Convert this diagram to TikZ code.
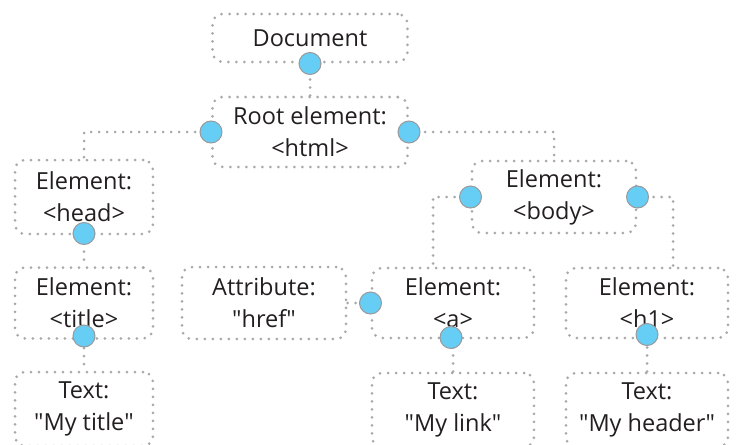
\documentclass[tikz,border=0pt]{standalone}
\usepackage{fontspec}
\setmainfont{Open Sans}
\usepackage{tikz}
\definecolor{rim}{HTML}{A9A9AB}
\definecolor{knob}{HTML}{66CDF4}
\definecolor{knobrim}{HTML}{9A9A9C}
\definecolor{ink}{HTML}{231F20}
\newcommand{\qq}{\textquotedbl}

\begin{document}
\begin{tikzpicture}[x=1pt, y=-1pt,
  font=\fontsize{23.5}{32}\selectfont,
  box/.style={draw=rim, line width=3pt, line cap=round,
              dash pattern=on 0pt off 8pt, rounded corners=10pt,
              align=center, inner sep=0pt, text=ink},
  link/.style={draw=rim, line width=3pt, line cap=round,
               dash pattern=on 0pt off 8pt},
  dot/.style={circle, fill=knob, draw=knobrim, line width=1pt,
              minimum size=22pt, inner sep=0pt}]
\clip (0,0) rectangle (738,444);
% boxes
\node[box, minimum width=195pt, minimum height=48pt] (doc) at (310,38) {Document};
\node[box, minimum width=195pt, minimum height=70pt] (root) at (310,132) {Root element:\\<html>};
\node[box, minimum width=138pt, minimum height=74pt] (head) at (84,197) {Element:\\<head>};
\node[box, minimum width=164pt, minimum height=72pt] (body) at (554,197) {Element:\\<body>};
\node[box, minimum width=138pt, minimum height=71pt] (title) at (84,303) {Element:\\<title>};
\node[box, minimum width=164pt, minimum height=72pt] (attr) at (264,303) {Attribute:\\\qq href\qq};
\node[box, minimum width=162pt, minimum height=70pt] (a) at (453,303) {Element:\\<a>};
\node[box, minimum width=162pt, minimum height=70pt] (h1) at (647,303) {Element:\\<h1>};
\node[box, minimum width=138pt, minimum height=74pt] (ttitle) at (84,409) {Text:\\\qq My title\qq};
\node[box, minimum width=162pt, minimum height=74pt] (tlink) at (453,410) {Text:\\\qq My link\qq};
\node[box, minimum width=162pt, minimum height=74pt] (thead) at (647,410) {Text:\\\qq My header\qq};
% connectors
\draw[link] (doc.south) -- (root.north);
\draw[link] (root.west) -| (head.north);
\draw[link] (root.east) -| (body.north);
\draw[link] (head.south) -- (title.north);
\draw[link] (body.west) -| ([xshift=-20pt]a.north);
\draw[link] (body.east) -| ([xshift=26pt]h1.north);
\draw[link] (attr.east) -- (a.west);
\draw[link] (title.south) -- (ttitle.north);
\draw[link] (a.south) -- (tlink.north);
\draw[link] (h1.south) -- (thead.north);
% knobs
\node[dot] (kdoc) at (doc.south) {};
\node[dot] (kroot1) at (root.west) {};
\node[dot] (kroot2) at (root.east) {};
\node[dot] (khead) at ([yshift=2pt]head.south) {};
\node[dot] (kbody1) at (body.west) {};
\node[dot] (kbody2) at (body.east) {};
\node[dot] (ka1) at (a.west) {};
\node[dot] (ka2) at ([xshift=-2pt,yshift=2pt]a.south) {};
\node[dot] (ktitle) at ([yshift=4pt]title.south) {};
\node[dot] (kh1) at ([yshift=5pt]h1.south) {};
\end{tikzpicture}
\end{document}
